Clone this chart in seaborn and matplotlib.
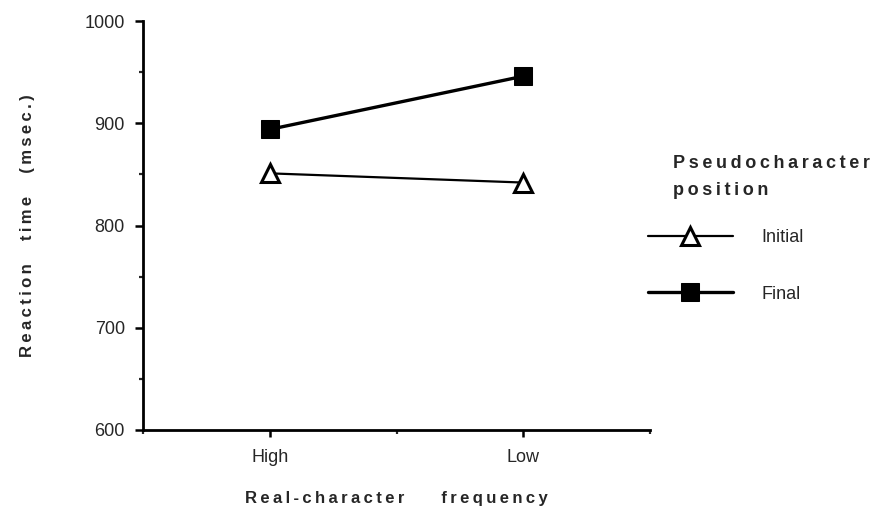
import matplotlib
matplotlib.use("Agg")
import matplotlib.pyplot as plt
from matplotlib.ticker import MultipleLocator, FixedLocator
import seaborn as sns
import pandas as pd

frequency = ["High", "Low"]
initial_rt = [851, 842]
final_rt = [894, 946]
series_names = ["Initial", "Final"]

TS = "\u2009"  # thin space, used for letter spacing


def spaced(words, gap):
    return (" " * gap).join(TS.join(w) for w in words)


sns.set_style("ticks")
plt.rcParams['font.family'] = ['Liberation Sans', 'DejaVu Sans']

fig = plt.figure(figsize=(8.81, 5.12), dpi=100)
ax = fig.add_axes([143/881, 1-430/512, (650-143)/881, (430-21)/512])

df_init = pd.DataFrame({"freq": frequency, "rt": initial_rt})
df_final = pd.DataFrame({"freq": frequency, "rt": final_rt})

sns.lineplot(data=df_init, x="freq", y="rt", ax=ax, color="black", lw=1.6,
             marker="^", markersize=13, markerfacecolor="white",
             markeredgecolor="black", markeredgewidth=2.2, label=series_names[0])
sns.lineplot(data=df_final, x="freq", y="rt", ax=ax, color="black", lw=2.4,
             marker="s", markersize=13, markerfacecolor="black",
             markeredgecolor="black", label=series_names[1])

ax.set_xlim(-0.5, 1.5)
ax.set_ylim(600, 1000)
ax.yaxis.set_major_locator(MultipleLocator(100))
ax.yaxis.set_minor_locator(MultipleLocator(50))
ax.xaxis.set_major_locator(FixedLocator([0, 1]))
ax.set_xticklabels(frequency)
ax.xaxis.set_minor_locator(FixedLocator([-0.5, 0.5, 1.5]))
ax.tick_params(axis="both", which="major", direction="out", width=1.8, labelsize=13, color="black")
ax.tick_params(axis="y", which="major", length=6, pad=7)
ax.tick_params(axis="x", which="major", length=5, pad=9)
ax.tick_params(axis="both", which="minor", direction="out", length=3, width=1.6)
for s in ["left", "bottom"]:
    ax.spines[s].set_linewidth(2)
    ax.spines[s].set_color("black")
sns.despine(ax=ax)

ax.set_xlabel(spaced(["Real-character", "frequency"], 8), fontsize=12,
              fontweight="bold", labelpad=18)
ax.set_ylabel(spaced(["Reaction", "time", "(msec.)"], 5), fontsize=12,
              fontweight="bold", labelpad=36)

leg = ax.legend(loc="upper left", bbox_to_anchor=(648/881, 1-229/512),
                bbox_transform=fig.transFigure, frameon=False, fontsize=13,
                handlelength=4.7, handletextpad=1.6, labelspacing=2.2,
                borderpad=0, borderaxespad=0)
for h in leg.legend_handles:
    h.set_markersize(13)

fig.text(673/881, 1-177/512, spaced(["Pseudocharacter"], 1) + "\n" + spaced(["position"], 1),
         fontsize=13, fontweight="bold", va="center", ha="left", linespacing=1.8)

fig.savefig("out.png", dpi=100)
